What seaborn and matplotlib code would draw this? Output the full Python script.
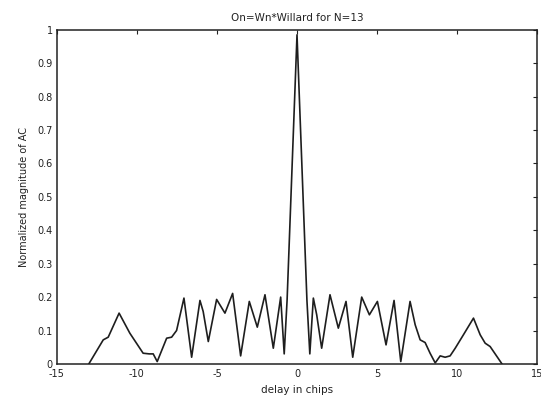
import matplotlib
matplotlib.use("Agg")
import matplotlib.pyplot as plt
import seaborn as sns
import pandas as pd

# Autocorrelation magnitude of the N=13 code, sampled along the delay axis
delay = [-13.0, -12.1, -11.79, -11.11, -10.44, -9.61, -9.23, -8.98, -8.73,
         -8.14, -7.83, -7.52, -7.06, -6.58, -6.06, -5.86, -5.54, -5.02,
         -4.5, -4.02, -3.52, -2.98, -2.48, -2.0, -1.48, -1.02, -0.8,
         -0.62, 0.0, 0.62, 0.8, 1.02, 1.23, 1.54, 2.06, 2.58, 3.06, 3.48,
         4.04, 4.52, 5.02, 5.56, 6.06, 6.48, 7.06, 7.38, 7.69, 8.0, 8.31,
         8.63, 8.94, 9.25, 9.56, 9.88, 10.39, 11.02, 11.44, 11.75, 12.06,
         12.8]
magnitude = [0.0, 0.072, 0.08, 0.152, 0.092, 0.032, 0.03, 0.03, 0.007,
             0.077, 0.08, 0.10, 0.197, 0.02, 0.19, 0.157, 0.067, 0.193,
             0.152, 0.211, 0.024, 0.187, 0.11, 0.207, 0.047, 0.20, 0.03,
             0.19, 0.985, 0.19, 0.03, 0.197, 0.147, 0.047, 0.207, 0.107,
             0.187, 0.02, 0.20, 0.147, 0.187, 0.057, 0.19, 0.007, 0.187,
             0.117, 0.072, 0.064, 0.032, 0.003, 0.024, 0.02, 0.024, 0.047,
             0.087, 0.137, 0.087, 0.062, 0.052, 0.0]

x_ticks = [-15, -10, -5, 0, 5, 10, 15]
y_ticks = [0, 0.1, 0.2, 0.3, 0.4, 0.5, 0.6, 0.7, 0.8, 0.9, 1]
y_tick_labels = ["0", "0.1", "0.2", "0.3", "0.4", "0.5", "0.6", "0.7",
                 "0.8", "0.9", "1"]

sns.set_style("white")
plt.rcParams["font.family"] = ["DejaVu Sans"]

df = pd.DataFrame({"delay": delay, "magnitude": magnitude})

fig = plt.figure(figsize=(5.41, 4.03), dpi=100)
ax = fig.add_axes([0.105, 0.097, 0.888, 0.829])
sns.lineplot(data=df, x="delay", y="magnitude", ax=ax, color="#1e1e1e",
             linewidth=1.2, sort=False)

ax.set_xlim(-15, 15)
ax.set_ylim(0, 1)
ax.set_xticks(x_ticks)
ax.set_xticklabels([str(t) for t in x_ticks])
ax.set_yticks(y_ticks)
ax.set_yticklabels(y_tick_labels)
ax.tick_params(direction="in", length=3, width=0.8, labelsize=7,
               colors="#222222", top=True, right=True)
ax.tick_params(axis="x", pad=4)
ax.tick_params(axis="y", pad=3)
for s in ax.spines.values():
    s.set_visible(True)
    s.set_color("#222222")
    s.set_linewidth(1.1)

ax.set_title("On=Wn*Willard for N=13", fontsize=7.5, color="#222222", pad=6)
ax.set_xlabel("delay in chips", fontsize=7.5, color="#222222", labelpad=4)
ax.set_ylabel("Normalized magnitude of AC", fontsize=7, color="#222222",
              labelpad=6)

fig.savefig("out.png", dpi=100)
